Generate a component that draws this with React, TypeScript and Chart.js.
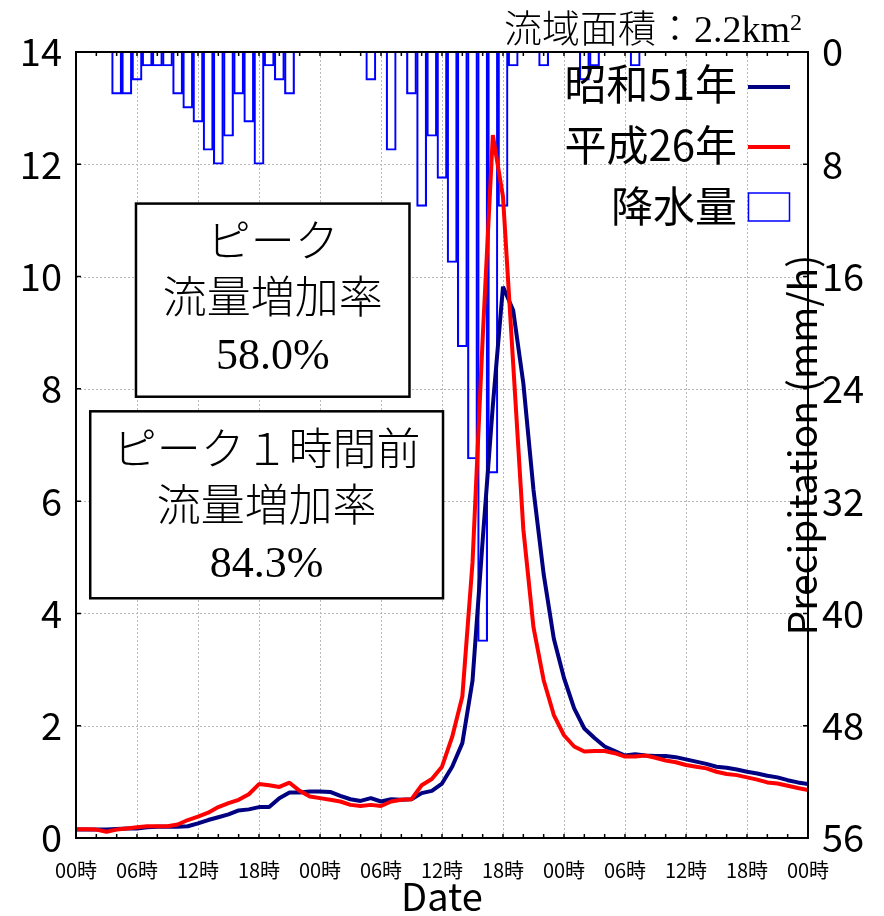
import React, { useEffect, useRef } from 'react';
import { Chart, registerables } from 'chart.js';

Chart.register(...registerables);

// ---- data ----
const HOURS = Array.from({ length: 73 }, (_, i) => i);
const X_TICK_HOURS = [0, 6, 12, 18, 24, 30, 36, 42, 48, 54, 60, 66, 72];
const X_TICK_LABELS = ['00時', '06時', '12時', '18時', '00時', '06時', '12時', '18時', '00時', '06時', '12時', '18時', '00時'];
const LEFT_TICKS = [0, 2, 4, 6, 8, 10, 12, 14];
const RIGHT_TICKS = [0, 8, 16, 24, 32, 40, 48, 56];

const SHOWA51 = [
  0.15, 0.15, 0.15, 0.15, 0.16, 0.17, 0.17, 0.19, 0.20, 0.20,
  0.20, 0.21, 0.26, 0.32, 0.37, 0.42, 0.49, 0.51, 0.55, 0.55,
  0.71, 0.81, 0.81, 0.83, 0.83, 0.82, 0.75, 0.69, 0.66, 0.71,
  0.65, 0.69, 0.68, 0.69, 0.80, 0.84, 0.97, 1.27, 1.69, 2.80,
  5.30, 7.70, 9.82, 9.40, 8.10, 6.20, 4.70, 3.55, 2.85, 2.31,
  1.95, 1.78, 1.63, 1.55, 1.47, 1.49, 1.47, 1.46, 1.46, 1.44,
  1.40, 1.36, 1.32, 1.27, 1.25, 1.22, 1.18, 1.15, 1.11, 1.08,
  1.03, 0.99, 0.96,
];

const HEISEI26 = [
  0.155, 0.155, 0.15, 0.11, 0.15, 0.17, 0.19, 0.21, 0.21, 0.21,
  0.24, 0.32, 0.38, 0.45, 0.55, 0.62, 0.68, 0.78, 0.96, 0.94,
  0.91, 0.985, 0.84, 0.74, 0.71, 0.68, 0.65, 0.59, 0.57, 0.59,
  0.57, 0.65, 0.68, 0.69, 0.94, 1.05, 1.27, 1.80, 2.52, 4.90,
  8.90, 12.52, 11.42, 8.45, 5.50, 3.75, 2.81, 2.19, 1.83, 1.63,
  1.54, 1.55, 1.55, 1.51, 1.45, 1.45, 1.47, 1.43, 1.38, 1.35,
  1.30, 1.27, 1.24, 1.18, 1.14, 1.12, 1.08, 1.04, 0.99, 0.97,
  0.93, 0.89, 0.855,
];

// precipitation (mm/h), hours 0..71
const PRECIP = [
  0, 0, 0, 0, 3, 3, 2, 1, 1, 1,
  3, 4, 5, 7, 8, 6, 3, 5, 8, 1,
  2, 3, 0, 0, 0, 0, 0, 0, 0, 2,
  0, 7, 0, 3, 11, 6, 9, 15, 21, 29,
  42, 30, 11, 1, 0, 0, 1, 0, 0, 0,
  2, 1, 0, 0, 0, 1, 0, 0, 0, 0,
  0, 0, 0, 0, 0, 0, 0, 0, 0, 0,
  0, 0,
];

const TITLE_MAIN = '流域面積：2.2km';
const TITLE_SUP = '2';
const BOX1_LINES = ['ピーク', '流量増加率', '58.0%'];
const BOX2_LINES = ['ピーク１時間前', '流量増加率', '84.3%'];
const LEGEND_LABELS = ['昭和51年', '平成26年', '降水量'];
const Y2_TITLE = 'Precipitation (mm/h)';
const X_TITLE = 'Date';

const GOTHIC = '"Noto Sans CJK JP", "DejaVu Sans", sans-serif';
const SERIF = '"Liberation Serif", "Noto Sans CJK JP", serif';
const NAVY = '#000080';
const RED = '#ff0000';
const BLUE = '#0000ff';

function drawTextBox(ctx: CanvasRenderingContext2D, sx: any, sy: any, x0: number, x1: number, y0: number, y1: number, lines: string[]) {
  const L = sx.getPixelForValue(x0);
  const R = sx.getPixelForValue(x1);
  const T = sy.getPixelForValue(y0);
  const B = sy.getPixelForValue(y1);
  ctx.save();
  ctx.fillStyle = '#ffffff';
  ctx.fillRect(L, T, R - L, B - T);
  ctx.strokeStyle = '#000';
  ctx.lineWidth = 2.5;
  ctx.strokeRect(L, T, R - L, B - T);
  ctx.fillStyle = '#000';
  ctx.font = `300 44px ${SERIF}`;
  ctx.textAlign = 'center';
  ctx.textBaseline = 'middle';
  const cx = (L + R) / 2;
  lines.forEach((s, i) => {
    ctx.fillText(s, cx, T + 42 + i * 56);
  });
  ctx.restore();
}

const decor = {
  id: 'decor',
  beforeDatasetsDraw(chart: any) {
    const { ctx, chartArea: a, scales } = chart;
    const sx = scales.x;
    const sy = scales.y;
    ctx.save();
    ctx.strokeStyle = '#b8b8b8';
    ctx.lineWidth = 1;
    ctx.setLineDash([2, 2]);
    ctx.beginPath();
    LEFT_TICKS.forEach((v) => {
      const y = Math.round(sy.getPixelForValue(v)) + 0.5;
      ctx.moveTo(a.left, y);
      ctx.lineTo(a.right, y);
    });
    X_TICK_HOURS.forEach((h) => {
      const x = Math.round(sx.getPixelForValue(h)) + 0.5;
      ctx.moveTo(x, a.top);
      ctx.lineTo(x, a.bottom);
    });
    ctx.stroke();
    ctx.restore();
  },
  afterDatasetsDraw(chart: any) {
    const { ctx, chartArea: a, scales } = chart;
    const sx = scales.x;
    const sy = scales.y;
    const sy2 = scales.y2;
    ctx.save();
    // frame
    ctx.strokeStyle = '#000';
    ctx.lineWidth = 2;
    ctx.strokeRect(a.left, a.top, a.right - a.left, a.bottom - a.top);
    // minor ticks on x (every 2 hours) and y ticks, pointing inward
    ctx.lineWidth = 1.5;
    ctx.beginPath();
    for (let h = 2; h < 72; h += 2) {
      const x = sx.getPixelForValue(h);
      ctx.moveTo(x, a.top);
      ctx.lineTo(x, a.top + 4);
      ctx.moveTo(x, a.bottom);
      ctx.lineTo(x, a.bottom - 4);
    }
    LEFT_TICKS.forEach((v) => {
      const y = sy.getPixelForValue(v);
      ctx.moveTo(a.left, y);
      ctx.lineTo(a.left + 5, y);
    });
    RIGHT_TICKS.forEach((v) => {
      const y = sy2.getPixelForValue(v);
      ctx.moveTo(a.right, y);
      ctx.lineTo(a.right - 5, y);
    });
    ctx.stroke();
    ctx.restore();

    // annotation boxes
    drawTextBox(ctx, sx, sy, 5.9, 32.8, 11.3, 7.86, BOX1_LINES);
    drawTextBox(ctx, sx, sy, 1.4, 36.1, 7.6, 4.27, BOX2_LINES);

    // legend
    ctx.save();
    ctx.fillStyle = '#000';
    ctx.font = `42px ${GOTHIC}`;
    ctx.textAlign = 'right';
    ctx.textBaseline = 'middle';
    const tx = a.right - 71;
    const rows = [a.top + 32, a.top + 93, a.top + 154];
    LEGEND_LABELS.forEach((s, i) => ctx.fillText(s, tx, rows[i]));
    ctx.lineWidth = 4;
    ctx.strokeStyle = NAVY;
    ctx.beginPath();
    ctx.moveTo(a.right - 60, a.top + 35);
    ctx.lineTo(a.right - 18, a.top + 35);
    ctx.stroke();
    ctx.strokeStyle = RED;
    ctx.beginPath();
    ctx.moveTo(a.right - 60, a.top + 95);
    ctx.lineTo(a.right - 18, a.top + 95);
    ctx.stroke();
    ctx.strokeStyle = BLUE;
    ctx.lineWidth = 1.5;
    ctx.strokeRect(a.right - 59.5, a.top + 141, 41, 28);
    ctx.restore();

    // right axis title (overlapping the right edge)
    ctx.save();
    ctx.fillStyle = '#000';
    ctx.font = `39px ${GOTHIC}`;
    ctx.textAlign = 'center';
    ctx.textBaseline = 'middle';
    ctx.translate(a.right - 6, (a.top + a.bottom) / 2);
    ctx.rotate(-Math.PI / 2);
    ctx.fillText(Y2_TITLE, 0, 0);
    ctx.restore();

    // x axis title
    ctx.save();
    ctx.fillStyle = '#000';
    ctx.font = `38px ${GOTHIC}`;
    ctx.textAlign = 'center';
    ctx.textBaseline = 'alphabetic';
    ctx.fillText(X_TITLE, (a.left + a.right) / 2, 911);
    ctx.restore();

    // top title
    ctx.save();
    ctx.fillStyle = '#000';
    ctx.textBaseline = 'alphabetic';
    ctx.textAlign = 'right';
    ctx.font = `300 24px ${SERIF}`;
    const supW = ctx.measureText(TITLE_SUP).width;
    const rx = a.right - 6;
    ctx.fillText(TITLE_SUP, rx, 30);
    ctx.font = `300 38px ${SERIF}`;
    ctx.fillText(TITLE_MAIN, rx - supW, 42);
    ctx.restore();
  },
};

export default function App() {
  const ref = useRef<HTMLCanvasElement | null>(null);
  useEffect(() => {
    const canvas = ref.current;
    if (!canvas) return;
    const chart = new Chart(canvas, {
      type: 'line',
      data: {
        datasets: [
          {
            type: 'line',
            label: '平成26年',
            data: HOURS.map((h) => ({ x: h, y: HEISEI26[h] })),
            borderColor: RED,
            borderWidth: 4,
            borderJoinStyle: 'bevel',
            pointRadius: 0,
            tension: 0,
            yAxisID: 'y',
            order: 0,
          },
          {
            type: 'line',
            label: '昭和51年',
            data: HOURS.map((h) => ({ x: h, y: SHOWA51[h] })),
            borderColor: NAVY,
            borderWidth: 4,
            borderJoinStyle: 'bevel',
            pointRadius: 0,
            tension: 0,
            yAxisID: 'y',
            order: 1,
          },
          {
            type: 'bar',
            label: '降水量',
            data: PRECIP.map((p, h) => ({ x: h, y: p > 0 ? p : null })),
            borderColor: BLUE,
            borderWidth: 1.5,
            backgroundColor: 'rgba(255,255,255,0)',
            barPercentage: 1,
            categoryPercentage: 1,
            borderSkipped: 'start',
            yAxisID: 'y2',
            order: 2,
          } as any,
        ],
      },
      options: {
        responsive: false,
        devicePixelRatio: 1,
        animation: false,
        layout: { padding: { top: 52, left: 0, right: 0, bottom: 0 } },
        plugins: {
          legend: { display: false },
          tooltip: { enabled: false },
          title: { display: false },
        },
        scales: {
          x: {
            type: 'linear',
            min: 0,
            max: 72,
            offset: false,
            afterBuildTicks: (s: any) => {
              s.ticks = X_TICK_HOURS.map((v) => ({ value: v }));
            },
            ticks: {
              autoSkip: false,
              maxRotation: 0,
              padding: 20,
              color: '#000',
              font: { size: 20, family: GOTHIC },
              callback: (_v: any, i: number) => X_TICK_LABELS[i],
            },
            grid: { display: false, drawTicks: false, offset: false },
            border: { display: false },
            title: { display: false },
            afterFit: (s: any) => {
              s.height = 78;
            },
          },
          y: {
            type: 'linear',
            position: 'left',
            min: 0,
            max: 14,
            afterBuildTicks: (s: any) => {
              s.ticks = LEFT_TICKS.map((v) => ({ value: v }));
            },
            ticks: {
              padding: 14,
              color: '#000',
              font: { size: 38, family: GOTHIC },
            },
            grid: { display: false, drawTicks: false },
            border: { display: false },
            afterFit: (s: any) => {
              s.width = 76;
            },
          },
          y2: {
            type: 'linear',
            position: 'right',
            min: 0,
            max: 56,
            reverse: true,
            afterBuildTicks: (s: any) => {
              s.ticks = RIGHT_TICKS.map((v) => ({ value: v }));
            },
            ticks: {
              padding: 14,
              color: '#000',
              font: { size: 38, family: GOTHIC },
            },
            grid: { display: false, drawTicks: false },
            border: { display: false },
            afterFit: (s: any) => {
              s.width = 76;
            },
          },
        },
      },
      plugins: [decor],
    });
    return () => chart.destroy();
  }, []);

  return (
    <div style={{ position: 'absolute', left: 0, top: 0, width: 884, height: 916, background: '#fff' }}>
      <canvas ref={ref} width={884} height={916} style={{ display: 'block', width: 884, height: 916 }} />
    </div>
  );
}
